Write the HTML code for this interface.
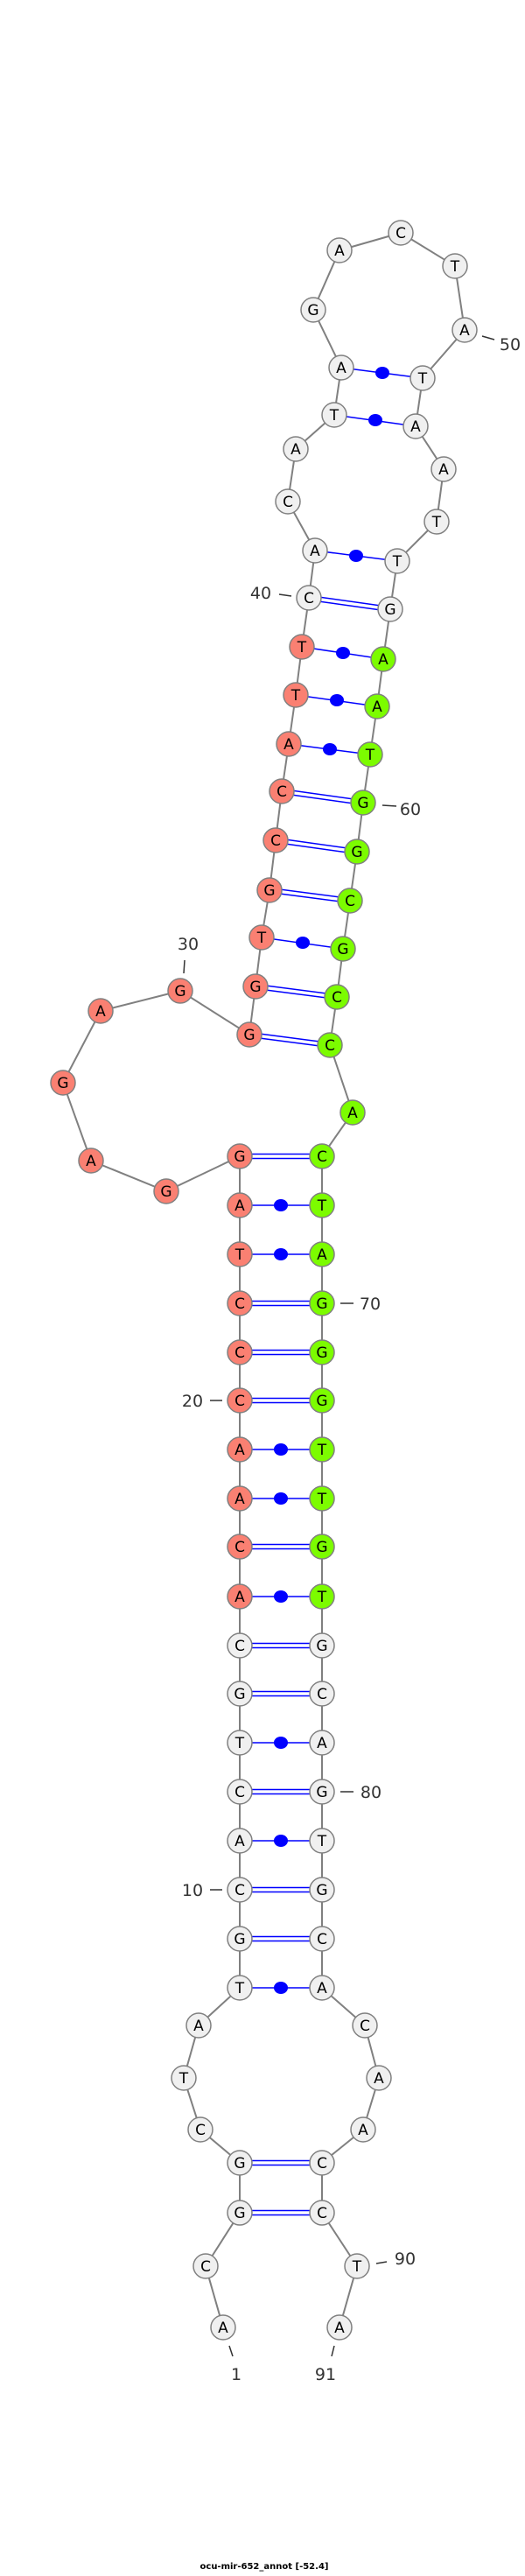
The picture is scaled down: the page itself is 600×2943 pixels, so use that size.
<!DOCTYPE html>
<html><head><meta charset="utf-8"><style>body{margin:0;background:#fff}svg{display:block}</style></head>
<body>
<svg width="600" height="2943" viewBox="0 0 600 2943" xmlns="http://www.w3.org/2000/svg" font-family="DejaVu Sans, Liberation Sans, sans-serif">
<polyline fill="none" stroke="#808080" stroke-width="2" points="255,2659 235,2589 274,2528 274,2471 229,2433 210,2374 227,2314 274,2271 274,2215 274,2159 274,2103 274,2047 274,1991 274,1935 274,1880 274,1824 274,1767 274,1712 274,1656 274,1600 274,1545 274,1489 274,1433 274,1377 274,1321 190,1361 104,1326 72,1237 115,1155 206,1132 285,1182 292,1127 299,1071 308,1017 315,960 322,904 330,850 338,794 345,739 353,683 360,629 329,573 338,513 382,474 390,420 358,354 388,286 458,266 520,304 531,377 483,432 475,487 507,536 499,596 454,641 446,696 438,753 431,807 423,862 415,917 408,973 400,1029 392,1084 385,1139 377,1194 403,1271 368,1321 368,1377 368,1433 368,1489 368,1545 368,1600 368,1656 368,1712 368,1767 368,1824 368,1880 368,1935 368,1991 368,2047 368,2103 368,2159 368,2215 368,2271 417,2314 433,2374 415,2433 368,2471 368,2528 408,2589 388,2659"/>
<g stroke="#0000ff" stroke-width="1.5" fill="none">
<path d="M274,2525.5H368M274,2530.5H368M274,2468.5H368M274,2473.5H368M274,2212.5H368M274,2217.5H368M274,2156.5H368M274,2161.5H368M274,2044.5H368M274,2049.5H368M274,1932.5H368M274,1937.5H368M274,1877.5H368M274,1882.5H368M274,1764.5H368M274,1769.5H368M274,1597.5H368M274,1602.5H368M274,1542.5H368M274,1547.5H368M274,1486.5H368M274,1491.5H368M274,1318.5H368M274,1323.5H368"/>
<path d="M285,1179.5L377,1191.5M285,1184.5L377,1196.5M292,1124.5L385,1136.5M292,1129.5L385,1141.5M308,1014.5L400,1026.5M308,1019.5L400,1031.5M315,957.5L408,970.5M315,962.5L408,975.5M322,901.5L415,914.5M322,906.5L415,919.5M353,680.5L446,693.5M353,685.5L446,698.5"/>
<path d="M274,2271H368M274,2103H368M274,1991H368M274,1824H368M274,1712H368M274,1656H368M274,1433H368M274,1377H368M299,1071L392,1084M330,850L423,862M338,794L431,807M345,739L438,753M360,629L454,641M382,474L475,487M390,420L483,432"/>
</g>
<g fill="#0000ff">
<ellipse cx="321" cy="2271" rx="8" ry="7"/><ellipse cx="321" cy="2103" rx="8" ry="7"/><ellipse cx="321" cy="1991" rx="8" ry="7"/><ellipse cx="321" cy="1824" rx="8" ry="7"/><ellipse cx="321" cy="1712" rx="8" ry="7"/><ellipse cx="321" cy="1656" rx="8" ry="7"/><ellipse cx="321" cy="1433" rx="8" ry="7"/><ellipse cx="321" cy="1377" rx="8" ry="7"/>
<ellipse cx="346" cy="1077" rx="8" ry="7"/><ellipse cx="377" cy="856" rx="8" ry="7"/><ellipse cx="385" cy="800" rx="8" ry="7"/><ellipse cx="392" cy="746" rx="8" ry="7"/><ellipse cx="407" cy="635" rx="8" ry="7"/><ellipse cx="429" cy="480" rx="8" ry="7"/><ellipse cx="437" cy="426" rx="8" ry="7"/>
</g>
<g stroke="#808080" stroke-width="1.5">
<!-- white -->
<g fill="#f0f0f0">
<circle cx="255" cy="2659" r="14"/><circle cx="235" cy="2589" r="14"/><circle cx="274" cy="2528" r="14"/><circle cx="274" cy="2471" r="14"/><circle cx="229" cy="2433" r="14"/><circle cx="210" cy="2374" r="14"/><circle cx="227" cy="2314" r="14"/><circle cx="274" cy="2271" r="14"/><circle cx="274" cy="2215" r="14"/><circle cx="274" cy="2159" r="14"/><circle cx="274" cy="2103" r="14"/><circle cx="274" cy="2047" r="14"/><circle cx="274" cy="1991" r="14"/><circle cx="274" cy="1935" r="14"/><circle cx="274" cy="1880" r="14"/>
<circle cx="353" cy="683" r="14"/><circle cx="360" cy="629" r="14"/><circle cx="329" cy="573" r="14"/><circle cx="338" cy="513" r="14"/><circle cx="382" cy="474" r="14"/><circle cx="390" cy="420" r="14"/><circle cx="358" cy="354" r="14"/><circle cx="388" cy="286" r="14"/><circle cx="458" cy="266" r="14"/><circle cx="520" cy="304" r="14"/><circle cx="531" cy="377" r="14"/><circle cx="483" cy="432" r="14"/><circle cx="475" cy="487" r="14"/><circle cx="507" cy="536" r="14"/><circle cx="499" cy="596" r="14"/><circle cx="454" cy="641" r="14"/><circle cx="446" cy="696" r="14"/>
<circle cx="368" cy="1880" r="14"/><circle cx="368" cy="1935" r="14"/><circle cx="368" cy="1991" r="14"/><circle cx="368" cy="2047" r="14"/><circle cx="368" cy="2103" r="14"/><circle cx="368" cy="2159" r="14"/><circle cx="368" cy="2215" r="14"/><circle cx="368" cy="2271" r="14"/><circle cx="417" cy="2314" r="14"/><circle cx="433" cy="2374" r="14"/><circle cx="415" cy="2433" r="14"/><circle cx="368" cy="2471" r="14"/><circle cx="368" cy="2528" r="14"/><circle cx="408" cy="2589" r="14"/><circle cx="388" cy="2659" r="14"/>
</g>
<g fill="#fa8072">
<circle cx="274" cy="1824" r="14"/><circle cx="274" cy="1767" r="14"/><circle cx="274" cy="1712" r="14"/><circle cx="274" cy="1656" r="14"/><circle cx="274" cy="1600" r="14"/><circle cx="274" cy="1545" r="14"/><circle cx="274" cy="1489" r="14"/><circle cx="274" cy="1433" r="14"/><circle cx="274" cy="1377" r="14"/><circle cx="274" cy="1321" r="14"/><circle cx="190" cy="1361" r="14"/><circle cx="104" cy="1326" r="14"/><circle cx="72" cy="1237" r="14"/><circle cx="115" cy="1155" r="14"/><circle cx="206" cy="1132" r="14"/><circle cx="285" cy="1182" r="14"/><circle cx="292" cy="1127" r="14"/><circle cx="299" cy="1071" r="14"/><circle cx="308" cy="1017" r="14"/><circle cx="315" cy="960" r="14"/><circle cx="322" cy="904" r="14"/><circle cx="330" cy="850" r="14"/><circle cx="338" cy="794" r="14"/><circle cx="345" cy="739" r="14"/>
</g>
<g fill="#7cfc00">
<circle cx="438" cy="753" r="14"/><circle cx="431" cy="807" r="14"/><circle cx="423" cy="862" r="14"/><circle cx="415" cy="917" r="14"/><circle cx="408" cy="973" r="14"/><circle cx="400" cy="1029" r="14"/><circle cx="392" cy="1084" r="14"/><circle cx="385" cy="1139" r="14"/><circle cx="377" cy="1194" r="14"/><circle cx="403" cy="1271" r="14"/><circle cx="368" cy="1321" r="14"/><circle cx="368" cy="1377" r="14"/><circle cx="368" cy="1433" r="14"/><circle cx="368" cy="1489" r="14"/><circle cx="368" cy="1545" r="14"/><circle cx="368" cy="1600" r="14"/><circle cx="368" cy="1656" r="14"/><circle cx="368" cy="1712" r="14"/><circle cx="368" cy="1767" r="14"/><circle cx="368" cy="1824" r="14"/>
</g>
</g>
<g font-size="17" text-anchor="middle" fill="#000" dominant-baseline="central">
<text x="255" y="2660">A</text><text x="235" y="2590">C</text><text x="274" y="2529">G</text><text x="274" y="2472">G</text><text x="229" y="2434">C</text><text x="210" y="2375">T</text><text x="227" y="2315">A</text><text x="274" y="2272">T</text><text x="274" y="2216">G</text><text x="274" y="2160">C</text><text x="274" y="2104">A</text><text x="274" y="2048">C</text><text x="274" y="1992">T</text><text x="274" y="1936">G</text><text x="274" y="1881">C</text>
<text x="274" y="1825">A</text><text x="274" y="1768">C</text><text x="274" y="1713">A</text><text x="274" y="1657">A</text><text x="274" y="1601">C</text><text x="274" y="1546">C</text><text x="274" y="1490">C</text><text x="274" y="1434">T</text><text x="274" y="1378">A</text><text x="274" y="1322">G</text>
<text x="190" y="1362">G</text><text x="104" y="1327">A</text><text x="72" y="1238">G</text><text x="115" y="1156">A</text><text x="206" y="1133">G</text><text x="285" y="1183">G</text><text x="292" y="1128">G</text><text x="299" y="1072">T</text><text x="308" y="1018">G</text><text x="315" y="961">C</text><text x="322" y="905">C</text><text x="330" y="851">A</text><text x="338" y="795">T</text><text x="345" y="740">T</text>
<text x="353" y="684">C</text><text x="360" y="630">A</text><text x="329" y="574">C</text><text x="338" y="514">A</text><text x="382" y="475">T</text><text x="390" y="421">A</text><text x="358" y="355">G</text><text x="388" y="287">A</text><text x="458" y="267">C</text><text x="520" y="305">T</text><text x="531" y="378">A</text><text x="483" y="433">T</text><text x="475" y="488">A</text><text x="507" y="537">A</text><text x="499" y="597">T</text><text x="454" y="642">T</text><text x="446" y="697">G</text>
<text x="438" y="754">A</text><text x="431" y="808">A</text><text x="423" y="863">T</text><text x="415" y="918">G</text><text x="408" y="974">G</text><text x="400" y="1030">C</text><text x="392" y="1085">G</text><text x="385" y="1140">C</text><text x="377" y="1195">C</text><text x="403" y="1272">A</text>
<text x="368" y="1322">C</text><text x="368" y="1378">T</text><text x="368" y="1434">A</text><text x="368" y="1490">G</text><text x="368" y="1546">G</text><text x="368" y="1601">G</text><text x="368" y="1657">T</text><text x="368" y="1713">T</text><text x="368" y="1768">G</text><text x="368" y="1825">T</text>
<text x="368" y="1881">G</text><text x="368" y="1936">C</text><text x="368" y="1992">A</text><text x="368" y="2048">G</text><text x="368" y="2104">T</text><text x="368" y="2160">G</text><text x="368" y="2216">C</text><text x="368" y="2272">A</text><text x="417" y="2315">C</text><text x="433" y="2375">A</text><text x="415" y="2434">A</text><text x="368" y="2472">C</text><text x="368" y="2529">C</text><text x="408" y="2590">T</text><text x="388" y="2660">A</text>
</g>
<g stroke="#333" stroke-width="1.5">
<path d="M551,384L565,388M319,679L333,681M437,920L453,921M211,1097L210,1112M389,1489H404M240,1600H254M389,2047H404M240,2159H254M430,2586L442,2584M262,2680L266,2692M382,2680L379,2692"/>
</g>
<g font-size="19" fill="#333" dominant-baseline="central">
<text x="583" y="394" text-anchor="middle">50</text>
<text x="298" y="678" text-anchor="middle">40</text>
<text x="469" y="925" text-anchor="middle">60</text>
<text x="215" y="1079" text-anchor="middle">30</text>
<text x="423" y="1490" text-anchor="middle">70</text>
<text x="220" y="1601" text-anchor="middle">20</text>
<text x="424" y="2048" text-anchor="middle">80</text>
<text x="220" y="2160" text-anchor="middle">10</text>
<text x="463" y="2581" text-anchor="middle">90</text>
<text x="270" y="2713" text-anchor="middle">1</text>
<text x="372" y="2713" text-anchor="middle">91</text>
</g>
<text x="302" y="2935" font-size="10" font-weight="bold" text-anchor="middle" fill="#000">ocu-mir-652_annot [-52.4]</text>
</svg>
</body></html>
